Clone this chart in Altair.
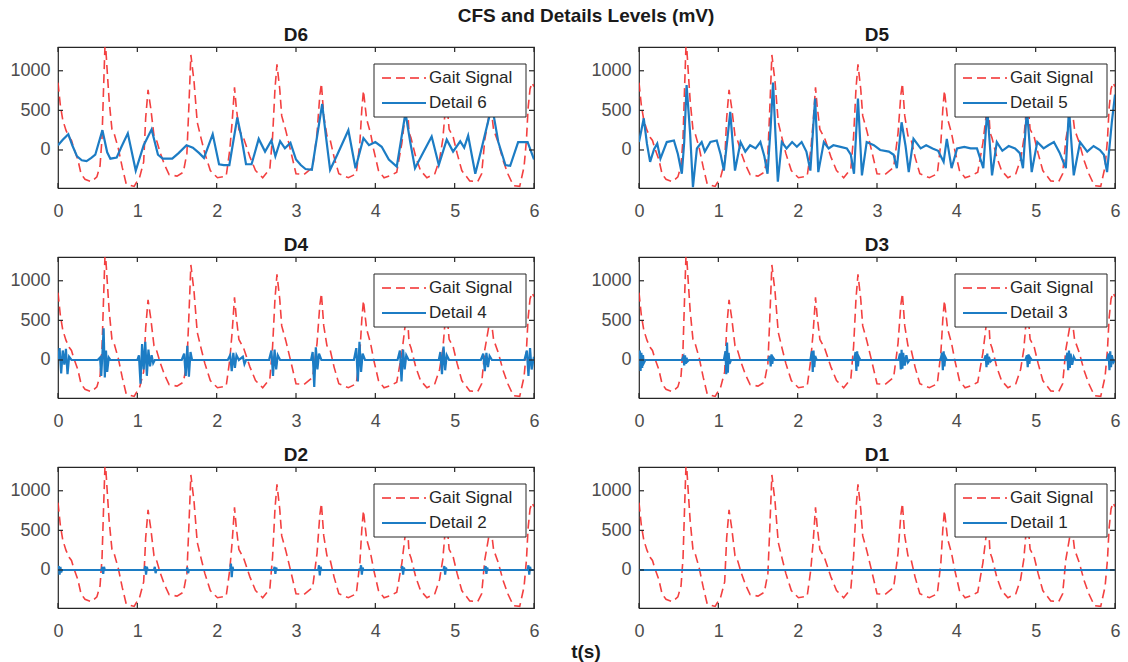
import altair as alt
import pandas as pd

# Axis ticks and limits
T_TICKS = [0, 1, 2, 3, 4, 5, 6]
V_TICKS = [0, 500, 1000]
T_RANGE = [0, 6]
V_RANGE = [-480, 1300]

MAIN_TITLE = "CFS and Details Levels (mV)"
X_LABEL = "t(s)"

# Raw gait signal (t in s, amplitude in mV)
GAIT = [
    (0.00, 850), (0.03, 560), (0.06, 380), (0.10, 250), (0.14, 160), (0.17, 120),
    (0.20, 20), (0.25, -120), (0.29, -300), (0.34, -370), (0.42, -400), (0.49, -340),
    (0.53, -200), (0.555, 150), (0.575, 800), (0.595, 1400), (0.62, 1000), (0.645, 620),
    (0.68, 260), (0.71, 200), (0.76, 20), (0.81, -220), (0.86, -430), (0.96, -460),
    (1.03, -340), (1.08, -150), (1.105, 400), (1.135, 760), (1.17, 520), (1.21, 180),
    (1.24, 130), (1.29, -40), (1.34, -180), (1.40, -310), (1.50, -330), (1.58, -280),
    (1.625, -40), (1.65, 560), (1.675, 1200), (1.715, 860), (1.755, 350), (1.80, 160),
    (1.85, -40), (1.92, -260), (2.01, -350), (2.12, -330), (2.165, 0), (2.195, 350),
    (2.225, 790), (2.245, 560), (2.28, 260), (2.34, 150), (2.42, -90), (2.49, -260),
    (2.58, -350), (2.67, -240), (2.705, 170), (2.735, 770), (2.76, 1080), (2.795, 770),
    (2.82, 430), (2.87, 250), (2.93, 0), (3.00, -300), (3.10, -310), (3.21, -220),
    (3.265, 210), (3.30, 690), (3.32, 840), (3.35, 430), (3.39, 180), (3.43, 130),
    (3.48, -90), (3.54, -300), (3.66, -350), (3.76, -300), (3.805, 90), (3.83, 520),
    (3.85, 750), (3.89, 390), (3.94, 210), (3.98, 0), (4.04, -260), (4.11, -350),
    (4.20, -320), (4.27, -280), (4.335, 90), (4.375, 430), (4.40, 640), (4.425, 220),
    (4.45, 150), (4.51, -90), (4.57, -260), (4.65, -350), (4.75, -300), (4.81, -120),
    (4.85, 130), (4.875, 430), (4.90, 620), (4.93, 260), (4.98, 170), (5.03, -40),
    (5.09, -260), (5.19, -390), (5.29, -400), (5.34, -300), (5.38, 130), (5.43, 420),
    (5.45, 600), (5.49, 260), (5.55, 90), (5.61, -130), (5.67, -300), (5.74, -450),
    (5.82, -460), (5.875, -210), (5.905, 130), (5.925, 520), (5.95, 770), (5.975, 850),
    (6.00, 800),
]

# Detail coefficients, level 6
D6 = [
    (0.00, 60), (0.06, 130), (0.13, 200), (0.18, 60), (0.24, -80), (0.30, -130),
    (0.36, -140), (0.42, -100), (0.47, -60), (0.56, 250), (0.62, -30), (0.66, -110),
    (0.74, -95), (0.80, 40), (0.88, 210), (0.98, -260), (1.08, 60), (1.18, 260),
    (1.26, -60), (1.32, -110), (1.44, -110), (1.52, -40), (1.62, 60), (1.70, 30),
    (1.78, -40), (1.84, -100), (1.95, 200), (2.03, -180), (2.09, -190), (2.16, -190),
    (2.26, 410), (2.31, 170), (2.37, -180), (2.44, -180), (2.53, 140), (2.61, -20),
    (2.69, 120), (2.74, -80), (2.80, 110), (2.86, 20), (2.93, 90), (3.00, -120),
    (3.06, -190), (3.12, -240), (3.20, -250), (3.33, 580), (3.38, 150), (3.43, -250),
    (3.52, -60), (3.66, 250), (3.75, -230), (3.85, 150), (3.92, 60), (4.00, 100),
    (4.08, 40), (4.17, -120), (4.27, -210), (4.38, 470), (4.44, 100), (4.50, -230),
    (4.61, -20), (4.71, 170), (4.80, -190), (4.90, 130), (4.98, -20), (5.07, 110),
    (5.12, 30), (5.17, 180), (5.26, -300), (5.33, -20), (5.47, 560), (5.55, 100),
    (5.64, -190), (5.70, -200), (5.80, 100), (5.92, 100), (6.00, -120),
]

# Detail coefficients, level 5
D5 = [
    (0.00, 100), (0.03, 250), (0.06, 400), (0.10, 80), (0.14, -150), (0.19, 10),
    (0.23, 80), (0.27, -110), (0.35, 100), (0.44, 120), (0.49, -50), (0.54, -300),
    (0.57, 100), (0.60, 820), (0.645, 200), (0.68, -470), (0.73, 20), (0.79, 100),
    (0.83, -20), (0.90, 100), (0.98, 120), (1.03, -60), (1.07, -260), (1.11, 100),
    (1.15, 480), (1.18, 100), (1.21, -260), (1.28, 100), (1.34, -20), (1.40, 60),
    (1.47, 20), (1.53, 100), (1.58, -80), (1.62, -300), (1.66, 300), (1.69, 850),
    (1.72, 200), (1.75, -400), (1.80, 100), (1.86, 20), (1.93, 100), (1.99, 40),
    (2.05, 100), (2.11, -20), (2.16, -260), (2.22, 650), (2.26, -280), (2.33, 100),
    (2.39, 20), (2.45, 60), (2.54, 40), (2.62, 20), (2.67, -60), (2.71, -300),
    (2.76, 650), (2.81, -320), (2.87, 100), (2.96, 60), (3.04, 0), (3.15, -20),
    (3.21, -60), (3.25, -230), (3.31, 350), (3.36, 50), (3.40, -280), (3.46, 140),
    (3.55, 20), (3.62, 60), (3.70, 20), (3.77, -10), (3.84, -150), (3.88, 140),
    (3.94, -230), (4.01, 20), (4.10, 40), (4.18, 20), (4.26, 20), (4.34, -230),
    (4.39, 520), (4.45, -320), (4.51, 100), (4.58, -10), (4.66, 50), (4.74, 20),
    (4.80, -40), (4.84, -230), (4.89, 520), (4.95, -280), (5.02, 100), (5.10, 20),
    (5.16, 60), (5.23, 100), (5.30, -30), (5.38, -230), (5.42, 520), (5.48, -320),
    (5.56, 100), (5.65, -20), (5.73, 50), (5.81, 0), (5.86, -60), (5.90, -280),
    (5.96, 350), (6.00, 700),
]

# Detail coefficients, level 4
D4 = [
    (0.00, 0), (0.02, 150), (0.04, -170), (0.06, 120), (0.08, -60), (0.10, 140),
    (0.12, -180), (0.14, 40), (0.17, 0), (0.50, 0), (0.53, 30), (0.545, -200),
    (0.56, 80), (0.575, 400), (0.59, -220), (0.605, 120), (0.62, -150), (0.64, 30),
    (0.66, 0), (1.00, 0), (1.02, 60), (1.04, -300), (1.06, 200), (1.08, -120),
    (1.10, 230), (1.12, -200), (1.14, 130), (1.16, -80), (1.18, 60), (1.20, -40),
    (1.22, 0), (1.56, 0), (1.59, 80), (1.61, -200), (1.63, 180), (1.65, -210),
    (1.67, 100), (1.69, 0), (2.14, 0), (2.17, 60), (2.19, -140), (2.21, 90),
    (2.23, -100), (2.25, 60), (2.28, 0), (2.33, 40), (2.35, -50), (2.37, 0),
    (2.66, 0), (2.69, 120), (2.71, -200), (2.73, 130), (2.75, -120), (2.77, 60),
    (2.80, 0), (3.19, 0), (3.21, 100), (3.23, -340), (3.25, 160), (3.27, -120),
    (3.29, 80), (3.32, 0), (3.73, 0), (3.76, 150), (3.78, -270), (3.80, 230),
    (3.82, -150), (3.84, 80), (3.87, 0), (4.28, 0), (4.31, 120), (4.33, -270),
    (4.35, 130), (4.37, -120), (4.39, 60), (4.42, 0), (4.80, 0), (4.82, 100),
    (4.84, -180), (4.86, 170), (4.88, -130), (4.90, 60), (4.93, 0), (5.33, 0),
    (5.36, 80), (5.38, -140), (5.40, 90), (5.42, -90), (5.44, 50), (5.47, 0),
    (5.88, 0), (5.91, 120), (5.93, -200), (5.95, 150), (5.97, -120), (6.00, 40),
]

# Detail coefficients, level 3
D3 = [
    (0.00, 0), (0.01, 120), (0.02, -140), (0.03, 90), (0.04, -100), (0.05, 60),
    (0.06, -40), (0.08, 0), (0.54, 0), (0.56, 40), (0.57, -70), (0.58, 60),
    (0.59, -50), (0.60, 30), (0.61, -20), (0.63, 0), (1.07, 0), (1.09, 110),
    (1.10, -180), (1.11, 220), (1.12, -160), (1.13, 90), (1.14, -50), (1.16, 0),
    (1.63, 0), (1.65, 50), (1.66, -80), (1.67, 70), (1.68, -50), (1.69, 30),
    (1.71, 0), (2.16, 0), (2.18, 110), (2.19, -150), (2.20, 120), (2.21, -90),
    (2.22, 50), (2.24, 0), (2.71, 0), (2.73, 100), (2.74, -140), (2.75, 110),
    (2.76, -80), (2.77, 40), (2.79, 0), (3.27, 0), (3.29, 80), (3.30, -120),
    (3.31, 130), (3.32, -110), (3.33, 90), (3.35, -70), (3.37, 60), (3.39, -30),
    (3.41, 0), (3.80, 0), (3.82, 90), (3.83, -130), (3.84, 110), (3.85, -80),
    (3.86, 40), (3.88, 0), (4.35, 0), (4.37, 60), (4.38, -90), (4.39, 80),
    (4.40, -60), (4.41, 40), (4.43, -20), (4.45, 0), (4.87, 0), (4.89, 60),
    (4.90, -90), (4.91, 70), (4.92, -50), (4.93, 30), (4.95, 0), (5.38, 0),
    (5.40, 90), (5.41, -130), (5.42, 120), (5.43, -100), (5.44, 80), (5.46, -60),
    (5.48, 40), (5.50, 0), (5.90, 0), (5.92, 80), (5.93, -130), (5.94, 110),
    (5.95, -90), (5.96, 60), (5.98, -30), (6.00, 0),
]

# Detail coefficients, level 2
D2 = [
    (0.00, 0), (0.01, 50), (0.02, -60), (0.03, 40), (0.04, -30), (0.05, 0),
    (0.55, 0), (0.56, 40), (0.57, -50), (0.58, 40), (0.59, 0), (1.09, 0),
    (1.10, 50), (1.11, -60), (1.12, 40), (1.13, 0), (1.21, 0), (1.22, 40),
    (1.23, -40), (1.24, 0), (1.62, 0), (1.63, 30), (1.64, -40), (1.65, 0),
    (2.17, 0), (2.18, 80), (2.19, -90), (2.20, 40), (2.21, 0), (2.72, 0),
    (2.73, 40), (2.74, -50), (2.75, 30), (2.76, 0), (3.28, 0), (3.29, 60),
    (3.30, -70), (3.31, 40), (3.32, 0), (3.81, 0), (3.82, 60), (3.83, -60),
    (3.84, 30), (3.85, 0), (4.33, 0), (4.34, 50), (4.35, -60), (4.36, 30),
    (4.37, 0), (4.86, 0), (4.87, 50), (4.88, -60), (4.89, 30), (4.90, 0),
    (5.38, 0), (5.39, 50), (5.40, -50), (5.41, 30), (5.42, 0), (5.92, 0),
    (5.93, 60), (5.94, -60), (5.95, 40), (5.96, 0), (6.00, 0),
]

# Detail coefficients, level 1
D1 = [(0.00, 0), (1.50, 0), (3.00, 0), (4.50, 0), (6.00, 0)]

PANELS = [
    ("D6", "Detail 6", D6), ("D5", "Detail 5", D5),
    ("D4", "Detail 4", D4), ("D3", "Detail 3", D3),
    ("D2", "Detail 2", D2), ("D1", "Detail 1", D1),
]

# Styling
W, H = 476, 141
TICK = 5
FONT = "Liberation Sans"
RED = "#f22b2b"
BLUE = "#1c7cc4"
INK = "#262626"
LABEL_INK = "#4d4d4d"
HEADING = dict(fontSize=19, fontWeight="bold", font=FONT, color="#1a1a1a")

gait_df = pd.DataFrame(GAIT, columns=["t", "v"])
one_row = pd.DataFrame({"k": [0]})

x_enc = alt.X(
    "t:Q",
    scale=alt.Scale(domain=T_RANGE, nice=False, zero=False),
    axis=alt.Axis(values=T_TICKS, format="d", ticks=False, tickSize=0, domain=False,
                  grid=False, labelFlush=False, labelOverlap=False, labelPadding=14,
                  labelFontSize=18, labelFont=FONT, labelColor=LABEL_INK),
    title=None,
)
y_enc = alt.Y(
    "v:Q",
    scale=alt.Scale(domain=V_RANGE, nice=False, zero=False),
    axis=alt.Axis(values=V_TICKS, format="d", ticks=False, tickSize=0, domain=False,
                  grid=False, labelFlush=False, labelOverlap=False, labelPadding=8,
                  labelFontSize=18, labelFont=FONT, labelColor=LABEL_INK),
    title=None,
)


def inner_ticks():
    tx = pd.DataFrame({"t": T_TICKS})
    tv = pd.DataFrame({"v": V_TICKS})
    rule = dict(color=INK, strokeWidth=1.2)
    return [
        alt.Chart(tx).mark_rule(**rule).encode(x=x_enc, y=alt.value(H), y2=alt.value(H - TICK)),
        alt.Chart(tx).mark_rule(**rule).encode(x=x_enc, y=alt.value(0), y2=alt.value(TICK)),
        alt.Chart(tv).mark_rule(**rule).encode(y=y_enc, x=alt.value(0), x2=alt.value(TICK)),
        alt.Chart(tv).mark_rule(**rule).encode(y=y_enc, x=alt.value(W), x2=alt.value(W - TICK)),
    ]


def key(label):
    base = alt.Chart(one_row)
    text = dict(align="left", baseline="middle", fontSize=17, font=FONT, color=INK)
    return [
        base.mark_rect(fill="white", fillOpacity=1, stroke=INK, strokeWidth=1).encode(
            x=alt.value(316), x2=alt.value(468), y=alt.value(17), y2=alt.value(70)),
        base.mark_rule(color=RED, strokeDash=[9, 5], strokeWidth=1.6).encode(
            x=alt.value(324), x2=alt.value(368), y=alt.value(31)),
        base.mark_rule(color=BLUE, strokeWidth=2.2).encode(
            x=alt.value(324), x2=alt.value(368), y=alt.value(56)),
        base.mark_text(**text).encode(x=alt.value(371), y=alt.value(31), text=alt.value("Gait Signal")),
        base.mark_text(**text).encode(x=alt.value(371), y=alt.value(56), text=alt.value(label)),
    ]


def panel(idx, name, label, series):
    detail_df = pd.DataFrame(series, columns=["t", "v"])
    gait = alt.Chart(gait_df).mark_line(
        clip=True, color=RED, strokeDash=[9, 5], strokeWidth=1.6, opacity=0.9
    ).encode(x=x_enc, y=y_enc)
    detail = alt.Chart(detail_df).mark_line(
        clip=True, color=BLUE, strokeWidth=2.2
    ).encode(x=x_enc, y=y_enc)
    layers = [gait, detail] + inner_ticks() + key(label)
    if idx == 4:
        # shared time-axis label, centred under both columns
        layers.append(alt.Chart(one_row).mark_text(baseline="middle", **HEADING).encode(
            x=alt.value(528), y=alt.value(185), text=alt.value(X_LABEL)))
    return alt.layer(*layers).properties(
        width=W, height=H,
        title=alt.TitleParams(name, anchor="middle", offset=1, **HEADING),
    )


charts = [panel(i, *p) for i, p in enumerate(PANELS)]

chart = alt.concat(
    *charts, columns=2, spacing={"row": 69, "column": 105}, bounds="flush"
).properties(
    title=alt.TitleParams(MAIN_TITLE, anchor="middle", offset=0, dx=21, **HEADING),
    padding={"left": 9, "top": 6, "right": 6, "bottom": 0},
    background="white",
).configure_view(
    stroke=INK, strokeWidth=1.2
)

chart.save("out.html", embed_options={"renderer": "svg", "actions": False})
